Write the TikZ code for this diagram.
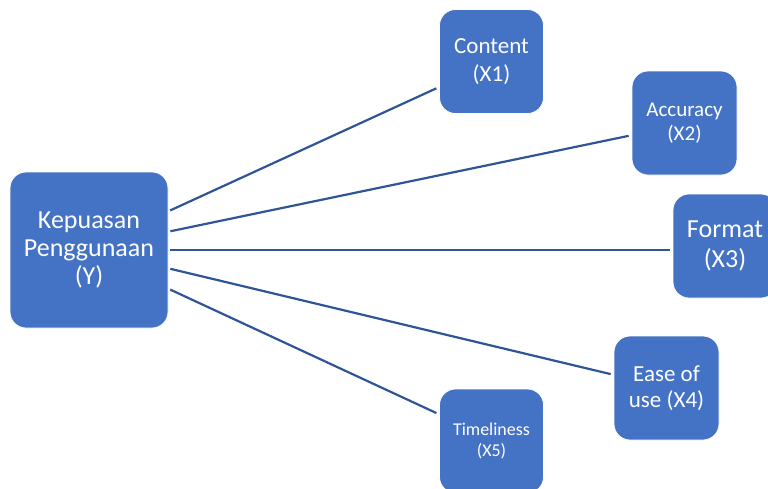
\documentclass[tikz,border=0pt]{standalone}
\usepackage{fontspec}
\setmainfont{Carlito}
\definecolor{boxblue}{HTML}{4472C4}
\definecolor{lineblue}{HTML}{2F5597}

\begin{document}
\begin{tikzpicture}[x=1pt, y=-1pt,
    var/.style={rounded corners=16pt, fill=boxblue, draw=white, line width=0.8pt,
      text=white, align=center, minimum width=104pt, minimum height=104pt, inner sep=0pt},
    link/.style={draw=lineblue, line width=2.2pt, shorten <=2pt, shorten >=3pt}]
    \useasboundingbox (0, 0) rectangle (768, 488);

    \node (y) at (89, 250) [var, minimum width=158pt, minimum height=156pt,
      font=\fontsize{26}{28}\selectfont] {Kepuasan\\Penggunaan\\(Y)};

    \node (xone) at (491.5, 61.5) [var, font=\fontsize{23}{28}\selectfont] {Content\\(X1)};
    \node (xtwo) at (684.5, 123) [var, minimum width=105pt,
      font=\fontsize{21}{24}\selectfont] {Accuracy\\(X2)};
    \node (xthree) at (725, 246) [var, font=\fontsize{26}{30}\selectfont] {Format\\(X3)};
    \node (xfour) at (666.5, 388) [var, minimum width=105pt,
      font=\fontsize{23}{26}\selectfont] {Ease of\\use (X4)};
    \node (xfive) at (491.5, 441) [var, font=\fontsize{18}{21}\selectfont] {Timeliness\\(X5)};

    \draw [link] (y.26) -- (xone.206);
    \draw [link] (y.13) -- (xtwo.193);
    \draw [link] (y.east) -- (y.east -| xthree.west);
    \draw [link] (y.-13) -- (xfour.166);
    \draw [link] (y.-26) -- (xfive.153);
\end{tikzpicture}
\end{document}
